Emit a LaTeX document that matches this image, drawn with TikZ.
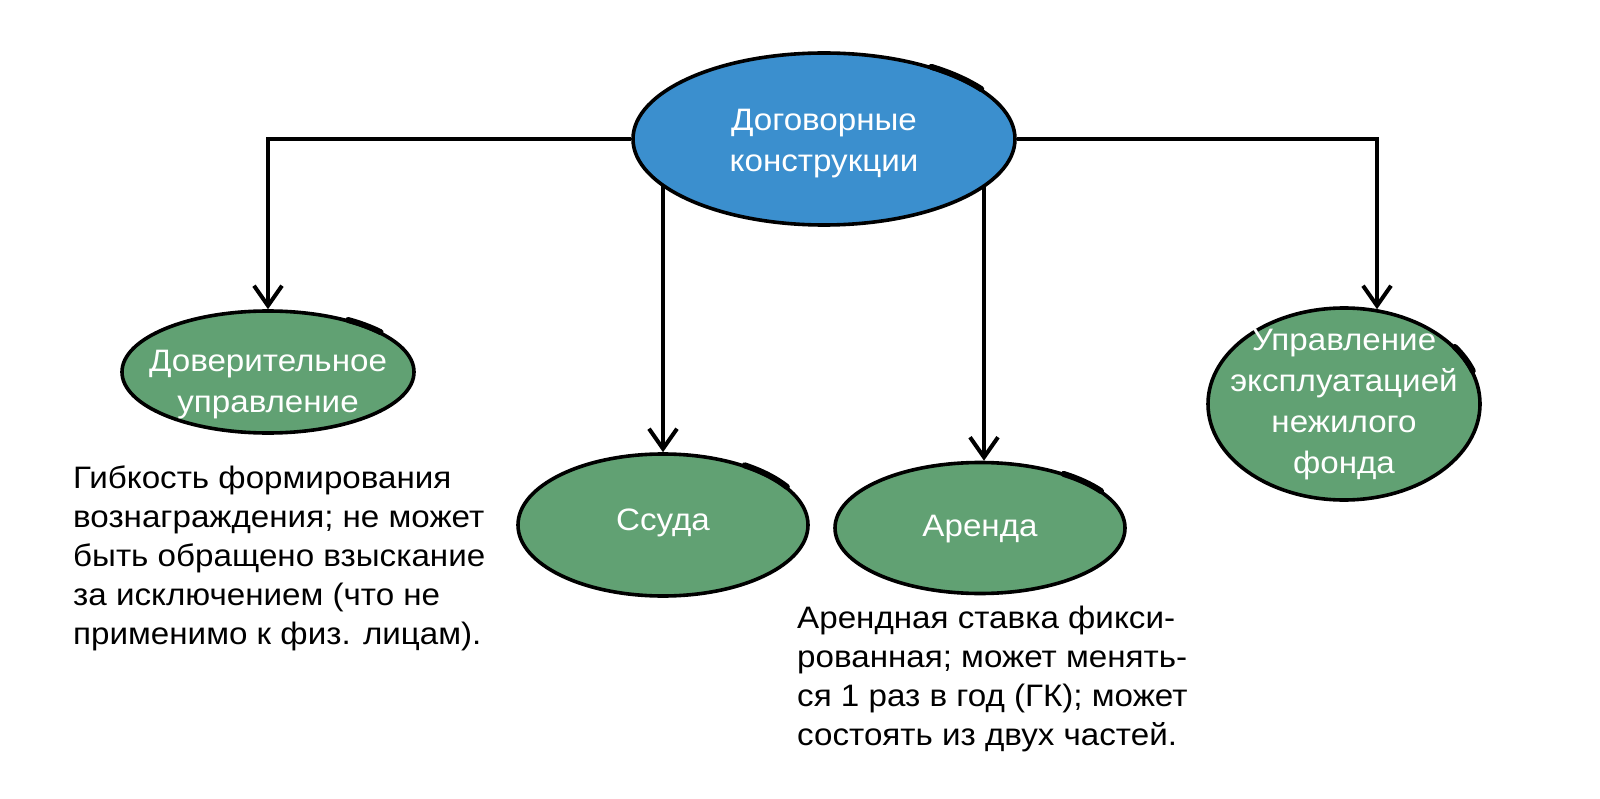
\documentclass[tikz,border=0pt]{standalone}
\usepackage{fontspec}
\setmainfont[FakeStretch=1.07]{Liberation Sans}
\usetikzlibrary{shapes.geometric,arrows.meta,backgrounds,calc}
\definecolor{topblue}{RGB}{59,143,206}
\definecolor{leafgreen}{RGB}{97,161,115}
\newcommand{\ovtxt}[2][0pt]{\makebox[0pt]{\raisebox{#1}{\vbox to 0pt{\vss\hbox{\begin{tabular}{@{}c@{}}#2\end{tabular}}\vss}}}}
\begin{document}
\begin{tikzpicture}[x=1pt,y=-1pt,
  oval/.style={ellipse, draw=black, line width=3.6pt, inner sep=0pt, text=white,
    font=\fontsize{31}{41}\selectfont},
  topoval/.style={oval, fill=topblue},
  leaf/.style={oval, fill=leafgreen},
  conn/.style={line width=4pt, -{Straight Barb[length=20pt,width=28pt]}},
  note/.style={anchor=north west, inner sep=0pt, align=left, font=\fontsize{31}{39}\selectfont},
  sketch/.style={line width=6pt, line cap=round}]
\useasboundingbox (0,0) rectangle (1600,799);

\node[topoval, minimum width=382pt, minimum height=172pt] (top) at (824,139) {\ovtxt[-7pt]{Договорные\\конструкции}};
\node[leaf, minimum width=292pt, minimum height=122pt] (dov) at (268,372) {\ovtxt[-23pt]{Доверительное\\управление}};
\node[leaf, minimum width=290pt, minimum height=142pt] (ssuda) at (663,525) {\ovtxt[6pt]{Ссуда}};
\node[leaf, minimum width=290pt, minimum height=131pt] (arenda) at (980,528) {\ovtxt{Аренда}};
\node[leaf, minimum width=272pt, minimum height=192pt] (upr) at (1344,404) {\ovtxt{Управление\\эксплуатацией\\нежилого\\фонда}};

% sketchy extra strokes
\draw[sketch] ([shift={(56:192pt and 87pt)}]top.center) arc[start angle=56, end angle=35, x radius=192pt, y radius=87pt];
\draw[sketch] ([shift={(57:147pt and 62pt)}]dov.center) arc[start angle=57, end angle=40, x radius=147pt, y radius=62pt];
\draw[sketch] ([shift={(56:146pt and 72pt)}]ssuda.center) arc[start angle=56, end angle=32, x radius=146pt, y radius=72pt];
\draw[sketch] ([shift={(55:146pt and 66pt)}]arenda.center) arc[start angle=55, end angle=34, x radius=146pt, y radius=66pt];
\draw[sketch] ([shift={(36:137pt and 97pt)}]upr.center) arc[start angle=36, end angle=20, x radius=137pt, y radius=97pt];

\begin{scope}[on background layer]
\fill[white] (0,0) rectangle (1600,799);
\coordinate (uprin) at ([xshift=33pt,yshift=-3pt]upr.north);
\coordinate (arin) at ([xshift=4pt]arenda.north);
\draw[conn] (top.west) -| (dov.north);
\draw[conn] (top.east) -| (uprin);
\draw[conn] (top.center -| ssuda.north) -- (ssuda.north);
\draw[conn] (top.center -| arin) -- (arin);
\end{scope}

\node[note] (n1) at (73,466) {Гибкость формирования\\вознаграждения; не может\\быть обращено взыскание\\за исключением (что не\\применимо к физ. лицам).};
\node[note] (n2) at (797,606) {Арендная ставка фикси-\\рованная; может менять-\\ся 1 раз в год (ГК); может\\состоять из двух частей.};
\end{tikzpicture}
\end{document}
